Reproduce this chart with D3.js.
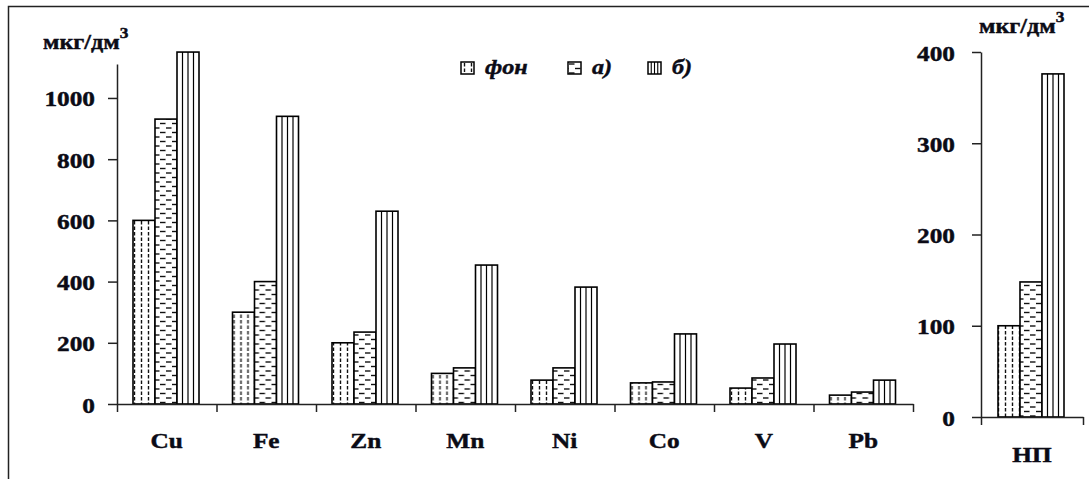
<!DOCTYPE html>
<html>
<head>
<meta charset="utf-8">
<script src="https://cdn.jsdelivr.net/npm/d3@7"></script>
<style>
  body { margin: 0; background: #fff; }
  text { font-family: "Liberation Serif", "Times New Roman", serif; font-weight: bold; fill: #0b0b16;
         stroke: #0b0b16; stroke-width: 0.45px; }
</style>
</head>
<body>
<div id="chart"></div>
<script>
// values
var elements = ["Cu", "Fe", "Zn", "Mn", "Ni", "Co", "V", "Pb"];
var fon     = [600, 300, 200, 100, 78, 69, 52, 29];
var seriesA = [931, 400, 235, 118, 118, 72, 85, 39];
var seriesB = [1150, 940, 630, 454, 382, 229, 196, 78];

var npCategory = ["НП"];
var npFon = [100], npA = [148], npB = [376];

var seriesNames = ["фон", "а)", "б)"];
var leftTicks = [0, 200, 400, 600, 800, 1000];
var rightTicks = [0, 100, 200, 300, 400];
var unitLabel = "мкг/дм";

var W = 1089, H = 479;
var stretch = 1.15;   // picture text is a bit wider than the font

var svg = d3.select("#chart").append("svg")
    .attr("width", W)
    .attr("height", H);

// hatch patterns
var defs = svg.append("defs");
var pDot = defs.append("pattern").attr("id", "pFon")
    .attr("patternUnits", "userSpaceOnUse").attr("width", 7).attr("height", 11);
pDot.append("rect").attr("width", 7).attr("height", 11).attr("fill", "#fff");
pDot.append("line").attr("x1", 3.5).attr("x2", 3.5).attr("y1", 1).attr("y2", 4.5)
    .attr("stroke", "#111").attr("stroke-width", 1.4);
pDot.append("line").attr("x1", 3.5).attr("x2", 3.5).attr("y1", 6.5).attr("y2", 10)
    .attr("stroke", "#111").attr("stroke-width", 1.4);

var pDash = defs.append("pattern").attr("id", "pA")
    .attr("patternUnits", "userSpaceOnUse").attr("width", 12).attr("height", 9);
pDash.append("rect").attr("width", 12).attr("height", 9).attr("fill", "#fff");
pDash.append("line").attr("x1", 1).attr("x2", 6.5).attr("y1", 2).attr("y2", 2)
    .attr("stroke", "#111").attr("stroke-width", 1.4);
pDash.append("line").attr("x1", 7).attr("x2", 12.5).attr("y1", 6.5).attr("y2", 6.5)
    .attr("stroke", "#111").attr("stroke-width", 1.4);
pDash.append("line").attr("x1", -0.5).attr("x2", 0.5).attr("y1", 6.5).attr("y2", 6.5)
    .attr("stroke", "#111").attr("stroke-width", 1.4);

var fills = ["url(#pFon)", "url(#pA)", "#fff"];

// outer frame (runs off the right and bottom edge)
svg.append("rect")
    .attr("x", 8.5).attr("y", 6.5)
    .attr("width", 1200).attr("height", 600)
    .attr("fill", "none").attr("stroke", "#222").attr("stroke-width", 1.5);

function drawPanel(cfg) {
  var g = svg.append("g");

  var x = d3.scaleBand().domain(cfg.cats).range(cfg.xRange);
  var xEdge = d3.scaleLinear().domain([0, cfg.cats.length]).range(cfg.xRange);
  var y = d3.scaleLinear().domain(cfg.yDomain).range(cfg.yRange);
  var xSub = d3.scaleBand().domain([0, 1, 2]).range([cfg.groupOffset, cfg.groupOffset + 66]);

  // bars
  var rows = cfg.cats.map(function(c, i) {
    return { cat: c, vals: [cfg.s[0][i], cfg.s[1][i], cfg.s[2][i]] };
  });
  var grp = g.selectAll("g.cat").data(rows).enter().append("g")
      .attr("transform", function(d) { return "translate(" + x(d.cat) + ",0)"; });

  grp.selectAll("rect").data(function(d) { return d.vals; }).enter().append("rect")
      .attr("x", function(d, i) { return xSub(i); })
      .attr("width", xSub.bandwidth())
      .attr("y", function(d) { return y(d); })
      .attr("height", function(d) { return y(0) - y(d); })
      .attr("fill", function(d, i) { return fills[i]; })
      .attr("stroke", "#000").attr("stroke-width", 1.6);

  // vertical ruling inside the б) bars
  grp.each(function(d) {
    var bx = xSub(2), bw = xSub.bandwidth();
    d3.select(this).selectAll("line.rule").data([1, 2, 3]).enter().append("line")
        .attr("x1", function(k) { return bx + bw * k / 4; })
        .attr("x2", function(k) { return bx + bw * k / 4; })
        .attr("y1", y(d.vals[2]))
        .attr("y2", y(0))
        .attr("stroke", "#000").attr("stroke-width", 1.2);
  });

  // y axis
  var ya = g.append("g")
      .attr("transform", "translate(" + cfg.xRange[0] + ",0)")
      .call(d3.axisLeft(y).tickValues(cfg.ticks).tickSize(9).tickSizeOuter(0).tickFormat(d3.format("d")));
  ya.selectAll("path, line").attr("stroke", "#222").attr("stroke-width", 1.5);
  ya.selectAll("text")
      .attr("x", null).attr("dy", null)
      .attr("transform", "translate(-" + cfg.labelGap + ",8) scale(" + stretch + ",1)")
      .style("font-size", "22px");

  // x axis: ticks at category edges
  var xa = g.append("g")
      .attr("transform", "translate(0," + y(0) + ")")
      .call(d3.axisBottom(xEdge).ticks(cfg.cats.length).tickSize(8).tickSizeOuter(0).tickFormat(""));
  xa.selectAll("path, line").attr("stroke", "#222").attr("stroke-width", 1.5);

  // category labels
  var xl = g.append("g")
      .attr("transform", "translate(0," + y(0) + ")")
      .call(d3.axisBottom(x).tickSize(0));
  xl.select(".domain").remove();
  xl.selectAll("text")
      .attr("y", null).attr("dy", null)
      .attr("transform", "translate(0," + cfg.catLabelDy + ") scale(" + stretch + ",1)")
      .style("font-size", "22px");

  // unit label
  var u = g.append("text")
      .attr("transform", "translate(" + cfg.unitPos[0] + "," + cfg.unitPos[1] + ") scale(" + stretch + ",1)")
      .style("font-size", "21px");
  u.append("tspan").text(unitLabel);
  u.append("tspan").attr("dy", -11).style("font-size", "15px").text("3");
}

drawPanel({
  cats: elements,
  s: [fon, seriesA, seriesB],
  xRange: [117, 913],
  yDomain: [0, 1111],
  yRange: [404, 64],
  ticks: leftTicks,
  groupOffset: 16,
  labelGap: 22,
  catLabelDy: 44,
  unitPos: [43, 49]
});

drawPanel({
  cats: npCategory,
  s: [npFon, npA, npB],
  xRange: [981, 1083],
  yDomain: [0, 400],
  yRange: [417, 52],
  ticks: rightTicks,
  groupOffset: 17,
  labelGap: 26,
  catLabelDy: 45,
  unitPos: [979, 33]
});

// legend
var legX = [461, 568, 648];
var leg = svg.append("g").selectAll("g").data(seriesNames).enter().append("g")
    .attr("transform", function(d, i) { return "translate(" + legX[i] + ",62)"; });
leg.append("rect")
    .attr("width", 13).attr("height", 12)
    .attr("fill", function(d, i) { return fills[i]; })
    .attr("stroke", "#000").attr("stroke-width", 1.5);
leg.filter(function(d, i) { return i === 2; }).selectAll("line").data([1, 2, 3]).enter().append("line")
    .attr("x1", function(k) { return 13 * k / 4; }).attr("x2", function(k) { return 13 * k / 4; })
    .attr("y1", 0).attr("y2", 12)
    .attr("stroke", "#000").attr("stroke-width", 1.1);
leg.append("text")
    .attr("transform", "translate(24,12) scale(" + stretch + ",1)")
    .style("font-size", "21px")
    .style("font-style", "italic")
    .text(function(d) { return d; });
</script>
</body>
</html>
